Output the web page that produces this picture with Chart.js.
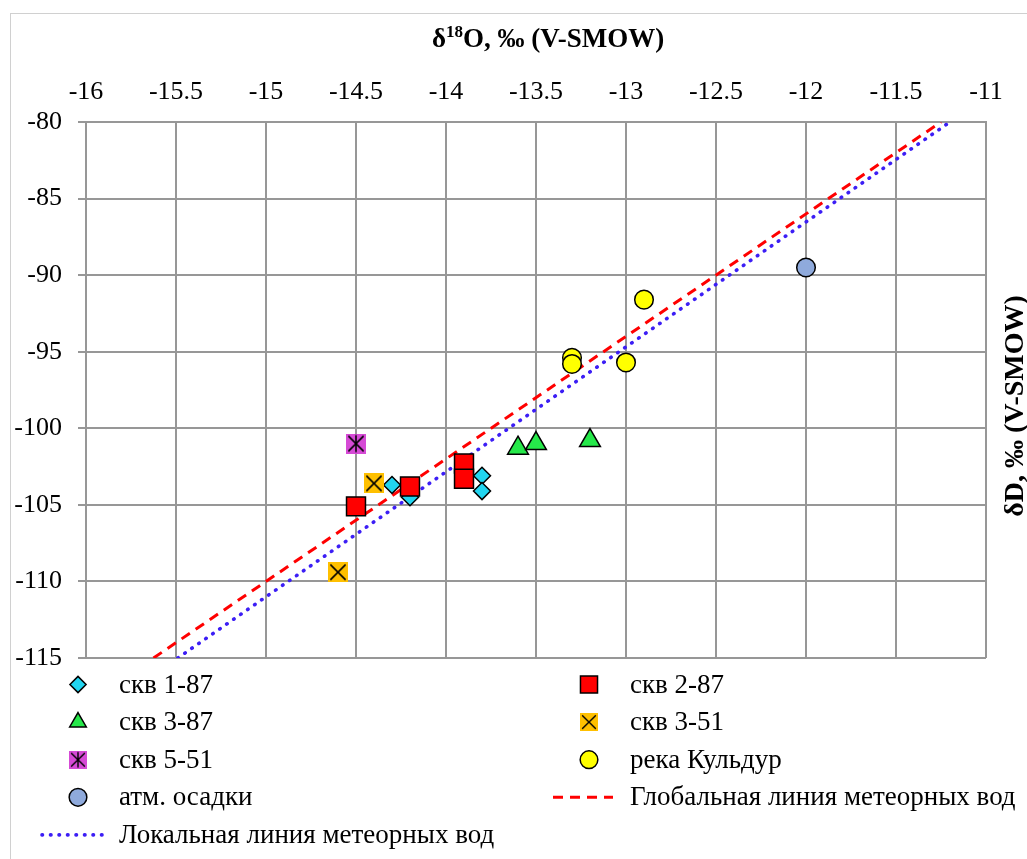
<!DOCTYPE html>
<html><head><meta charset="utf-8">
<script src="https://cdn.jsdelivr.net/npm/chart.js@4.4.1/dist/chart.umd.min.js"></script>
<style>html,body{margin:0;padding:0;background:#fff;overflow:hidden}</style>
</head><body>
<canvas id="c" width="1027" height="859"></canvas>
<script>
// ---- data ----
const xTicks = [-16, -15.5, -15, -14.5, -14, -13.5, -13, -12.5, -12, -11.5, -11];
const yTicks = [-80, -85, -90, -95, -100, -105, -110, -115];
const seriesNames = ['скв 1-87', 'скв 2-87', 'скв 3-87', 'скв 3-51', 'скв 5-51', 'река Кульдур', 'атм. осадки', 'Глобальная линия метеорных вод', 'Локальная линия метеорных вод'];
const skv187X = [-14.3, -14.2, -13.8, -13.8];
const skv187Y = [-103.7, -104.5, -103.1, -104.1];
const skv287X = [-14.5, -14.2, -13.9, -13.9];
const skv287Y = [-105.1, -103.8, -102.3, -103.3];
const skv387X = [-13.6, -13.5, -13.2];
const skv387Y = [-101.3, -101.0, -100.8];
const skv351X = [-14.4, -14.6];
const skv351Y = [-103.6, -109.4];
const skv551X = [-14.5];
const skv551Y = [-101.0];
const riverX = [-12.9, -13.3, -13.3, -13.0];
const riverY = [-91.6, -95.4, -95.8, -95.7];
const precipX = [-12.0];
const precipY = [-89.5];
const gmwlX = [-15.625, -11.25];
const gmwlY = [-115, -80];
const lmwlX = [-15.49, -11.2];
const lmwlY = [-115, -80];

function pts(xs, ys) { return xs.map((x, i) => ({ x: x, y: ys[i] })); }

// custom marker images
function makeMarker(size, fill, star) {
  const c = document.createElement('canvas');
  c.width = size; c.height = size;
  const g = c.getContext('2d');
  g.fillStyle = fill; g.fillRect(0, 0, size, size);
  g.strokeStyle = '#000'; g.lineWidth = size / 13;
  const m = size * 0.12;
  g.beginPath();
  g.moveTo(m, m); g.lineTo(size - m, size - m);
  g.moveTo(size - m, m); g.lineTo(m, size - m);
  if (star) { g.moveTo(size / 2, m * 0.6); g.lineTo(size / 2, size - m * 0.6); }
  g.stroke();
  return c;
}
const orangeMk = makeMarker(20, '#ffc000', false);
const magentaMk = makeMarker(20, '#d64ad6', true);
const orangeMkL = makeMarker(18, '#ffc000', false);
const magentaMkL = makeMarker(18, '#d64ad6', true);

const FONT = "'Liberation Serif', 'Times New Roman', serif";
const GRID = '#979797';

const datasets = [
  { label: seriesNames[0], data: pts(skv187X, skv187Y), pointStyle: 'rectRot', pointRadius: 8.5, backgroundColor: '#22d5f0', borderColor: '#000', pointBorderWidth: 1.5, order: 6 },
  { label: seriesNames[1], data: pts(skv287X, skv287Y), pointStyle: 'rect', pointRadius: 13.4, backgroundColor: '#ff0000', borderColor: '#000', pointBorderWidth: 1.5, order: 2 },
  { label: seriesNames[2], data: pts(skv387X, skv387Y), pointStyle: 'triangle', pointRadius: 12, backgroundColor: '#26e84a', borderColor: '#000', pointBorderWidth: 1.5, order: 4 },
  { label: seriesNames[3], data: pts(skv351X, skv351Y), pointStyle: orangeMk, pointRadius: 10, backgroundColor: '#ffc000', borderColor: '#000', pointBorderWidth: 0, order: 3, legendImg: orangeMkL },
  { label: seriesNames[4], data: pts(skv551X, skv551Y), pointStyle: magentaMk, pointRadius: 10, backgroundColor: '#d64ad6', borderColor: '#000', pointBorderWidth: 0, order: 3, legendImg: magentaMkL },
  { label: seriesNames[5], data: pts(riverX, riverY), pointStyle: 'circle', pointRadius: 9.3, backgroundColor: '#ffff00', borderColor: '#000', pointBorderWidth: 1.5, order: 1 },
  { label: seriesNames[6], data: pts(precipX, precipY), pointStyle: 'circle', pointRadius: 9.3, backgroundColor: '#8faadc', borderColor: '#000', pointBorderWidth: 1.5, order: 1 },
  { label: seriesNames[7], data: pts(gmwlX, gmwlY), showLine: true, pointRadius: 0, borderColor: '#ff0000', borderWidth: 3, borderDash: [10, 7], order: 10, isLine: true },
  { label: seriesNames[8], data: pts(lmwlX, lmwlY), showLine: true, pointRadius: 0, borderColor: '#3c1ef5', borderWidth: 3.6, borderDash: [0.5, 8], borderCapStyle: 'round', order: 11, isLine: true }
];

const frame = {
  id: 'frame',
  beforeDraw(chart) {
    const ctx = chart.ctx;
    ctx.save();
    ctx.fillStyle = '#fff';
    ctx.fillRect(0, 0, chart.width, chart.height);
    ctx.strokeStyle = '#d0d0d0';
    ctx.lineWidth = 1;
    ctx.strokeRect(10.5, 13.5, chart.width + 20, chart.height + 20);
    ctx.restore();
  }
};

function drawShape(ctx, ds, x, y, scale) {
  ctx.save();
  const st = ds.pointStyle;
  if (st instanceof HTMLCanvasElement) {
    const img = ds.legendImg || st;
    ctx.drawImage(img, x - img.width / 2, y - img.height / 2);
    ctx.restore();
    return;
  }
  const r = ds.pointRadius * scale;
  ctx.fillStyle = ds.backgroundColor;
  ctx.strokeStyle = ds.borderColor;
  ctx.lineWidth = ds.pointBorderWidth;
  ctx.beginPath();
  if (st === 'circle') {
    ctx.arc(x, y, r, 0, Math.PI * 2);
  } else if (st === 'rect') {
    const h = r * Math.SQRT1_2;
    ctx.rect(x - h, y - h, 2 * h, 2 * h);
  } else if (st === 'rectRot') {
    ctx.moveTo(x - r, y); ctx.lineTo(x, y - r); ctx.lineTo(x + r, y); ctx.lineTo(x, y + r); ctx.closePath();
  } else if (st === 'triangle') {
    ctx.moveTo(x, y - r);
    ctx.lineTo(x + r * Math.sin(2 * Math.PI / 3), y - r * Math.cos(2 * Math.PI / 3));
    ctx.lineTo(x + r * Math.sin(4 * Math.PI / 3), y - r * Math.cos(4 * Math.PI / 3));
    ctx.closePath();
  }
  ctx.fill();
  ctx.stroke();
  ctx.restore();
}

const legendPlugin = {
  id: 'customLegend',
  afterDraw(chart) {
    const ctx = chart.ctx;
    const layout = [[0, 0, 0], [1, 1, 0], [2, 0, 1], [3, 1, 1], [4, 0, 2], [5, 1, 2], [6, 0, 3], [7, 1, 3], [8, 0, 4]];
    const markX = [78, 589], textX = [119, 630], lineX = [[42, 103], [553, 613]];
    const legendScale = [0.95, 0.9, 0.8, 1, 1, 0.95, 0.95];
    layout.forEach(([di, col, row]) => {
      const ds = chart.data.datasets[di];
      const y = 684.5 + row * 37.6;
      if (ds.isLine) {
        ctx.save();
        ctx.strokeStyle = ds.borderColor;
        ctx.lineWidth = ds.borderWidth;
        ctx.setLineDash(ds.borderDash);
        ctx.lineCap = ds.borderCapStyle || 'butt';
        ctx.beginPath();
        ctx.moveTo(lineX[col][0], y);
        ctx.lineTo(lineX[col][1], y);
        ctx.stroke();
        ctx.restore();
      } else {
        drawShape(ctx, ds, markX[col], y, legendScale[di]);
      }
      ctx.save();
      ctx.fillStyle = '#000';
      ctx.font = '27px ' + FONT;
      ctx.textBaseline = 'middle';
      ctx.textAlign = 'left';
      ctx.fillText(ds.label, textX[col], y + 1);
      ctx.restore();
    });

    // axis titles
    ctx.save();
    ctx.fillStyle = '#000';
    const big = 'bold 27px ' + FONT, small = 'bold 17px ' + FONT;
    const parts = [['δ', big, 0], ['18', small, -10], ['O, ‰ (V-SMOW)', big, 0]];
    let total = 0;
    parts.forEach(p => { ctx.font = p[1]; total += ctx.measureText(p[0]).width; });
    let x = 548 - total / 2;
    ctx.textBaseline = 'alphabetic';
    parts.forEach(p => { ctx.font = p[1]; ctx.fillText(p[0], x, 47 + p[2]); x += ctx.measureText(p[0]).width; });
    ctx.translate(1023, 406);
    ctx.rotate(-Math.PI / 2);
    ctx.font = 'bold 28px ' + FONT;
    ctx.textAlign = 'center';
    ctx.fillText('δD, ‰ (V-SMOW)', 0, 0);
    ctx.restore();
  }
};

new Chart(document.getElementById('c'), {
  type: 'scatter',
  data: { datasets: datasets },
  plugins: [frame, legendPlugin],
  options: {
    responsive: false,
    animation: false,
    events: [],
    layout: { padding: { left: 0, top: 0, right: 41, bottom: 201 } },
    plugins: { legend: { display: false }, tooltip: { enabled: false }, title: { display: false } },
    scales: {
      x: {
        type: 'linear', position: 'top', min: -16, max: -11,
        afterBuildTicks: (s) => { s.ticks = xTicks.map(v => ({ value: v })); },
        afterFit: (s) => { s.height = 122; },
        ticks: { color: '#000', font: { family: FONT, size: 26 }, padding: 14, maxRotation: 0, autoSkip: false, callback: (v) => String(v) },
        grid: { color: GRID, lineWidth: 2, drawTicks: false },
        border: { color: GRID, width: 2 }
      },
      y: {
        type: 'linear', position: 'left', min: -115, max: -80,
        afterBuildTicks: (s) => { s.ticks = yTicks.map(v => ({ value: v })); },
        afterFit: (s) => { s.width = 86; },
        ticks: { color: '#000', font: { family: FONT, size: 26 }, padding: 16, autoSkip: false, callback: (v) => String(v) },
        grid: { color: GRID, lineWidth: 2, drawTicks: true, tickLength: 8 },
        border: { color: GRID, width: 2 }
      }
    }
  }
});
</script>
</body></html>
